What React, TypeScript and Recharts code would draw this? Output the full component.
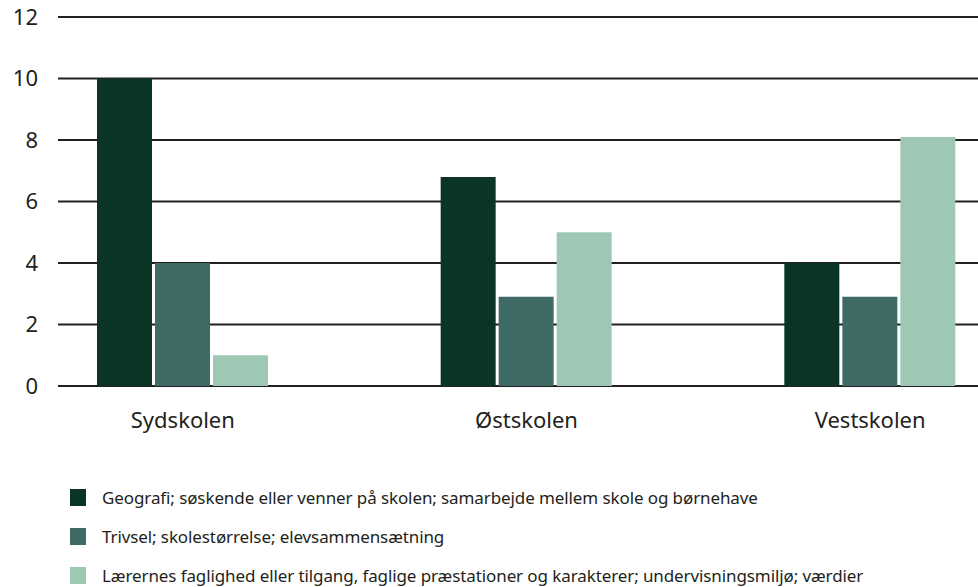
import { BarChart, Bar, XAxis, YAxis, CartesianGrid, Legend } from "recharts";

const schools = ["Sydskolen", "Østskolen", "Vestskolen"];
const geografi = [10, 6.8, 4];
const trivsel = [4, 2.9, 2.9];
const laerere = [1, 5, 8.1];
const yTicks = [0, 2, 4, 6, 8, 10, 12];

const SERIES = [
  {
    key: "geografi",
    name: "Geografi; søskende eller venner på skolen; samarbejde mellem skole og børnehave",
    color: "#0a3525"
  },
  {
    key: "trivsel",
    name: "Trivsel; skolestørrelse; elevsammensætning",
    color: "#3e6b66"
  },
  {
    key: "laerere",
    name: "Lærernes faglighed eller tilgang, faglige præstationer og karakterer; undervisningsmiljø; værdier",
    color: "#9ec8b4"
  }
];

const data = schools.map((school, i) => ({
  school,
  geografi: geografi[i],
  trivsel: trivsel[i],
  laerere: laerere[i]
}));

const FONT = "'Noto Sans', sans-serif";
const TEXT = "#231f20";

function LegendBox() {
  return (
    <div style={{ height: 146, paddingTop: 37, boxSizing: "border-box", fontFamily: FONT }}>
      {SERIES.map((s) => (
        <div
          key={s.key}
          style={{ display: "flex", alignItems: "center", height: 39, fontSize: 17, color: TEXT }}
        >
          <span
            style={{
              width: 16,
              height: 17,
              marginLeft: 70,
              marginRight: 16,
              backgroundColor: s.color,
              display: "inline-block",
              flexShrink: 0
            }}
          />
          <span style={{ whiteSpace: "nowrap", letterSpacing: -0.1 }}>{s.name}</span>
        </div>
      ))}
    </div>
  );
}

export default function App() {
  return (
    <div style={{ position: "absolute", left: 0, top: 0, width: 978, height: 587, background: "#fff", overflow: "hidden" }}>
      <BarChart
        width={978}
        height={587}
        data={data}
        margin={{ top: 17, right: 0, bottom: 0, left: 0 }}
        barSize={55}
        barGap={3}
      >
        <CartesianGrid vertical={false} stroke={TEXT} strokeWidth={2} />
        <XAxis
          dataKey="school"
          axisLine={false}
          tickLine={false}
          tickSize={0}
          tickMargin={26}
          height={55}
          padding={{ left: -47, right: -64 }}
          tick={{ fill: TEXT, fontSize: 22, fontFamily: FONT }}
        />
        <YAxis
          domain={[0, 12]}
          ticks={yTicks}
          width={58}
          axisLine={false}
          tickLine={false}
          tickSize={0}
          tickMargin={20}
          tick={{ fill: TEXT, fontSize: 22, fontFamily: FONT }}
        />
        <Legend
          verticalAlign="bottom"
          align="left"
          content={() => <LegendBox />}
          wrapperStyle={{ left: 0, bottom: 0, width: 978 }}
        />
        {SERIES.map((s) => (
          <Bar key={s.key} dataKey={s.key} name={s.name} fill={s.color} isAnimationActive={false} />
        ))}
      </BarChart>
    </div>
  );
}
